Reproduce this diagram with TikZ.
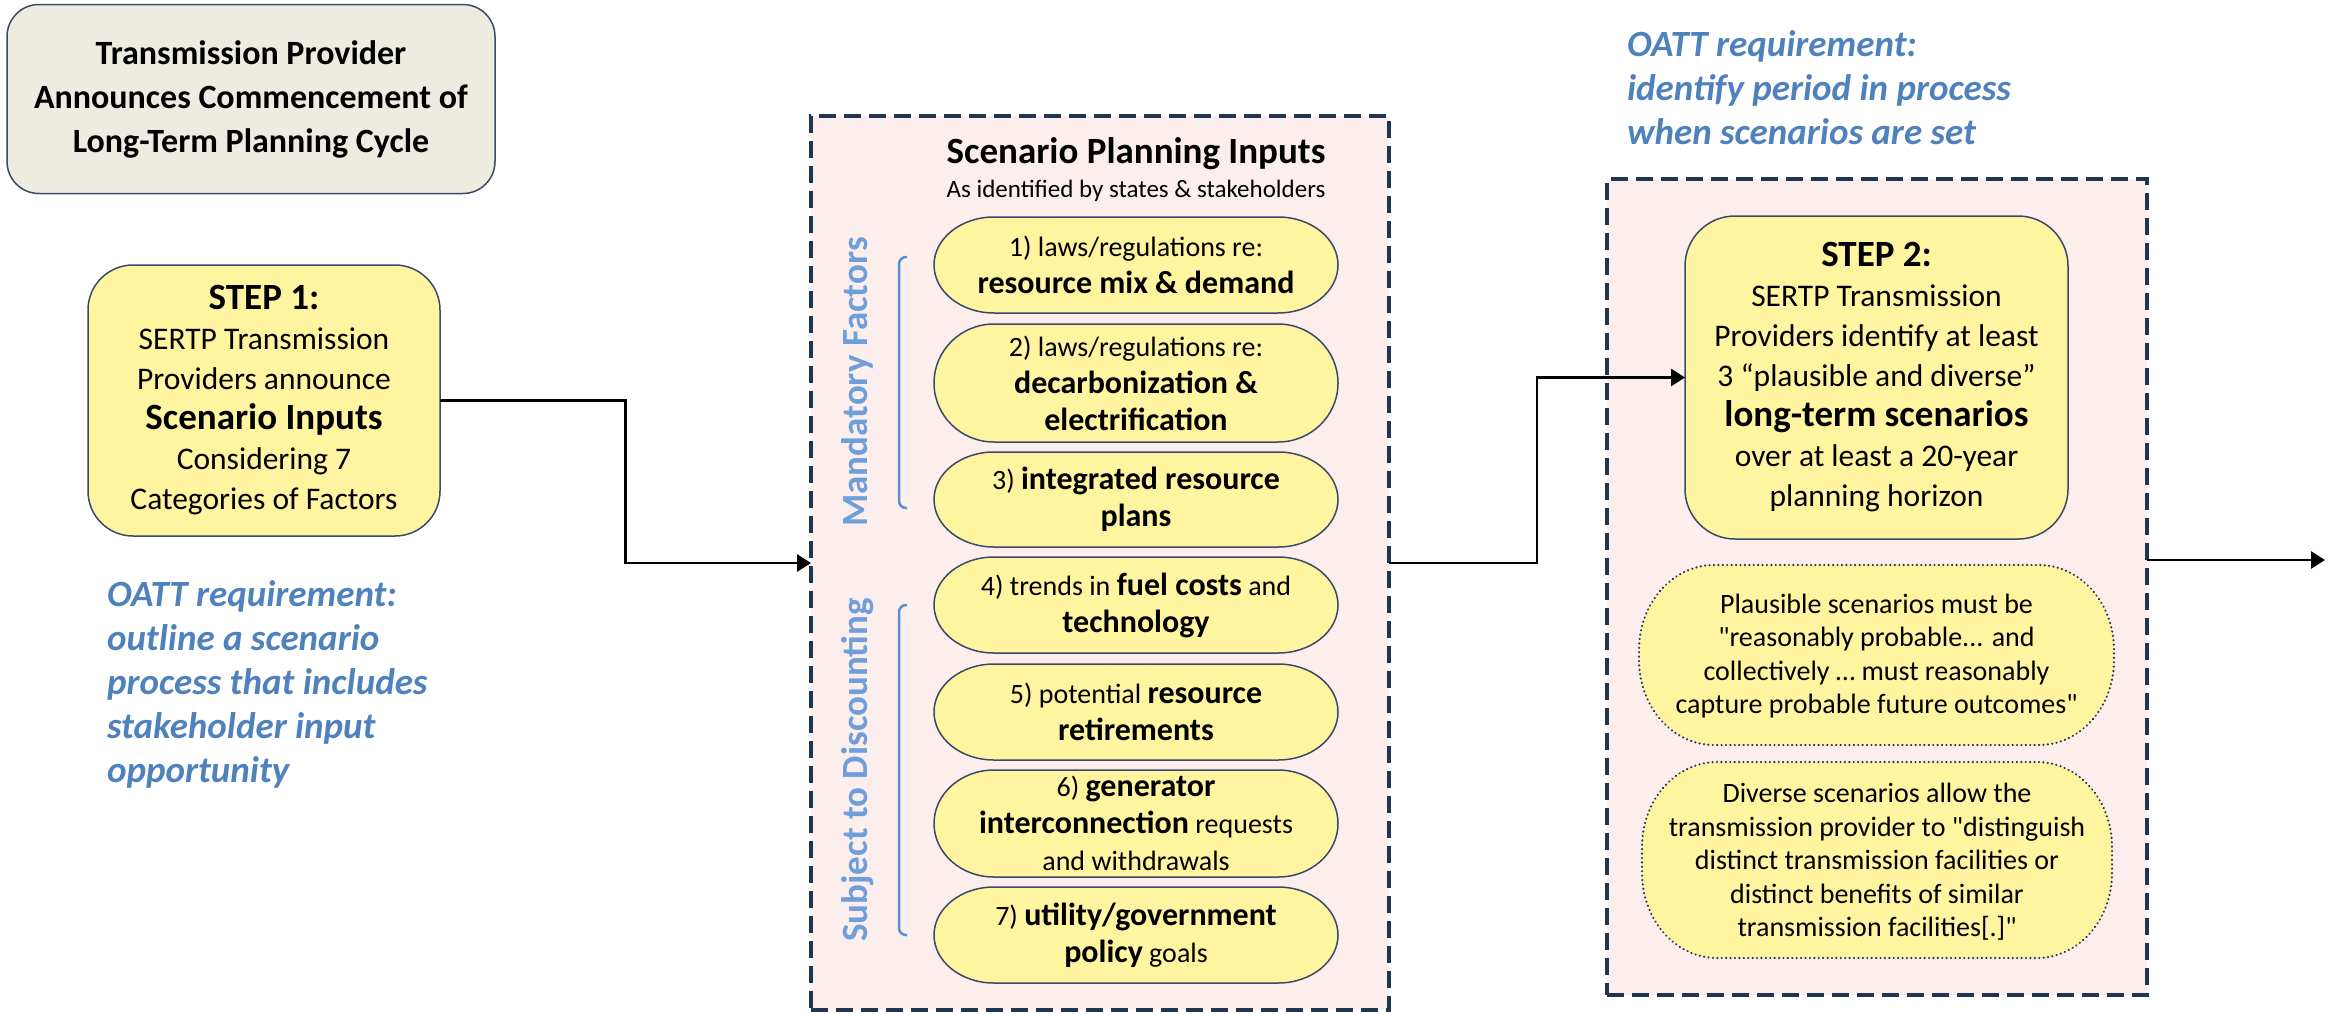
\documentclass[tikz,border=0pt]{standalone}
\usepackage{fontspec}
\setmainfont{Carlito}
\newfontfamily\plainqfont{Carlito}
\usetikzlibrary{arrows.meta,calc}

\definecolor{yel}{HTML}{FFF5A0}
\definecolor{pinkbg}{HTML}{FDEEEE}
\definecolor{navy}{HTML}{1F3552}
\definecolor{edgec}{HTML}{3A4A66}
\definecolor{beige}{HTML}{EEECE1}
\definecolor{oattblue}{HTML}{4F81BD}
\definecolor{lblue}{HTML}{6E9FDB}
\definecolor{brk}{HTML}{5B8FCF}

\newcommand\Bf[1]{{\fontsize{32}{37}\selectfont\bfseries #1}}
\newcommand\Bs[1]{{\fontsize{37}{40}\selectfont\bfseries #1}}
% x1 y1 x2 y2 rx ry style
\newcommand\rrect[7]{%
  \path[#7] (#1+#5,#2) -- (#3-#5,#2)
    arc[start angle=-90,end angle=0,x radius=#5,y radius=#6]
    -- (#3,#4-#6)
    arc[start angle=0,end angle=90,x radius=#5,y radius=#6]
    -- (#1+#5,#4)
    arc[start angle=90,end angle=180,x radius=#5,y radius=#6]
    -- (#1,#2+#6)
    arc[start angle=180,end angle=270,x radius=#5,y radius=#6]
    -- cycle;}

\begin{document}
\begin{tikzpicture}[x=1pt,y=-1pt,
  every node/.style={inner sep=0pt,outer sep=0pt},
  titlebox/.style={draw=edgec,line width=1.5pt,fill=beige,rounded corners=32pt,
    minimum width=488pt,minimum height=189pt,align=center,
    font=\fontsize{34}{44}\selectfont\bfseries},
  stepbox/.style={draw=edgec,line width=1.5pt,fill=yel,rounded corners=45pt,
    align=center,font=\fontsize{31.5}{40}\selectfont},
  dashbox/.style={draw=navy,line width=4.5pt,dash pattern=on 17pt off 8pt,fill=pinkbg},
  pillst/.style={draw=edgec,line width=1.5pt,fill=yel},
  dotst/.style={draw=navy,line width=2.4pt,dash pattern=on 0.01pt off 4.4pt,line cap=round,fill=yel},
  pilltext/.style={align=center,font=\fontsize{28}{37}\selectfont},
  quotetext/.style={align=center,font=\plainqfont\fontsize{28}{33.5}\selectfont},
  oattnote/.style={text=oattblue,align=left,font=\fontsize{37}{44}\selectfont\bfseries\itshape},
  sidelab/.style={text=lblue,rotate=90,font=\fontsize{37}{44}\selectfont\bfseries},
  bracket/.style={draw=brk,line width=2.5pt,rounded corners=7pt},
  arr/.style={draw=black,line width=2.8pt,-{Triangle[length=14pt,width=17pt]}}
]
\useasboundingbox (0,0) rectangle (2336,1013);

% title
\node[titlebox] (title) at (251,99) {Transmission Provider\\Announces Commencement of\\Long-Term Planning Cycle};

% step 1
\node[stepbox,minimum width=352pt,minimum height=271pt] (step1) at (264,400.5)
  {\Bs{STEP 1:}\\SERTP Transmission\\Providers announce\\\Bs{Scenario Inputs}\\Considering 7\\Categories of Factors};

\node[oattnote,anchor=west] (oatt1) at (107,684.5)
  {OATT requirement:\\outline a scenario\\process that includes\\stakeholder input\\opportunity};

% middle box
\node[dashbox,minimum width=578pt,minimum height=894pt] (midbox) at (1100,563) {};
\node[anchor=base,font=\fontsize{37}{44}\selectfont\bfseries] (spi) at (1136,163) {Scenario Planning Inputs};
\node[anchor=base,font=\fontsize{25}{30}\selectfont] (spisub) at (1136,197) {As identified by states \& stakeholders};

\rrect{934}{217}{1338}{313}{60}{48}{pillst}
\rrect{934}{324}{1338}{442}{60}{59}{pillst}
\rrect{934}{452}{1338}{547}{60}{47.5}{pillst}
\rrect{934}{557}{1338}{653}{60}{48}{pillst}
\rrect{934}{664}{1338}{760}{60}{48}{pillst}
\rrect{934}{770}{1338}{877}{60}{53.5}{pillst}
\rrect{934}{887}{1338}{983}{60}{48}{pillst}

\node[pilltext] (f1) at (1136,265) {1) laws/regulations re:\\\Bf{resource mix \& demand}};
\node[pilltext] (f2) at (1136,383) {2) laws/regulations re:\\\Bf{decarbonization \&}\\\Bf{electrification}};
\node[pilltext] (f3) at (1136,499.5) {3) \Bf{integrated resource}\\\Bf{plans}};
\node[pilltext] (f4) at (1136,605) {4) trends in \Bf{fuel costs} and\\\Bf{technology}};
\node[pilltext] (f5) at (1136,712) {5) potential \Bf{resource}\\\Bf{retirements}};
\node[pilltext] (f6) at (1136,823.5) {6) \Bf{generator}\\\Bf{interconnection} requests\\and withdrawals};
\node[pilltext] (f7) at (1136,935) {7) \Bf{utility/government}\\\Bf{policy} goals};

\node[sidelab] (mand) at (857,382) {Mandatory Factors};
\node[sidelab] (subj) at (858,770) {Subject to Discounting};
\draw[bracket] (907,257) -- (899,257) -- (899,508) -- (907,508);
\draw[bracket] (907,605) -- (899,605) -- (899,935) -- (907,935);

% right part
\node[oattnote,anchor=west] (oatt2) at (1627,87.5)
  {OATT requirement:\\identify period in process\\when scenarios are set};
\node[dashbox,minimum width=540pt,minimum height=816pt] (rightbox) at (1877,587) {};
\node[stepbox,minimum width=383pt,minimum height=323pt,rounded corners=50pt] (step2) at (1876.5,377.5)
  {\Bs{STEP 2:}\\SERTP Transmission\\Providers identify at least\\3 “plausible and diverse”\\\Bs{long-term scenarios}\\over at least a 20-year\\planning horizon};

\rrect{1639}{565}{2114}{745}{75}{85}{dotst}
\rrect{1642}{762}{2112}{958}{75}{85}{dotst}
\node[quotetext] (q1) at (1876.5,656) {Plausible scenarios must be\\"reasonably probable... and\\collectively … must reasonably\\capture probable future outcomes"};
\node[quotetext] (q2) at (1877,862) {Diverse scenarios allow the\\transmission provider to "distinguish\\distinct transmission facilities or\\distinct benefits of similar\\transmission facilities[.]"};

% connectors
\coordinate (arrend) at (2325,560);
\draw[arr] (step1.east) -| ($(step1.east)!0.5!(midbox.west)$) |- (midbox.west);
\draw[arr] (midbox.east) -| ($(midbox.east)!0.5!(step2.west)$) |- (step2.west);
\draw[arr] (rightbox.east |- arrend) -- (arrend);
\end{tikzpicture}
\end{document}
